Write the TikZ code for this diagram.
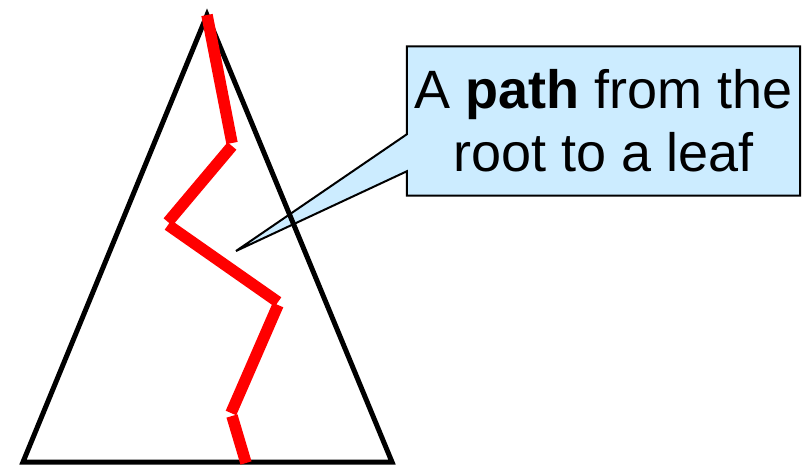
\documentclass[tikz,border=0pt]{standalone}
\usepackage{fontspec}
\setmainfont{Liberation Sans}
\usepackage{xcolor}
\usetikzlibrary{positioning,backgrounds}
\definecolor{noteblue}{RGB}{204,236,255}
\definecolor{pathred}{RGB}{255,0,0}

\begin{document}
\begin{tikzpicture}[
    x=1pt, y=-1pt,
    tri/.style={draw=black, line width=5pt, line join=miter},
    pathseg/.style={draw=pathred, line width=11.5pt},
    notebox/.style={rectangle, minimum width=393pt, minimum height=149pt, inner sep=0pt, align=center, font=\fontsize{54}{63}\selectfont},
    noteline/.style={draw=black, fill=noteblue, line width=2pt}
]
\useasboundingbox (0,0) rectangle (809,466);

% Tree
\coordinate (root) at (207,15);
\coordinate (leftleaf) at (23,462);
\coordinate (rightleaf) at (392,462);
\draw[tri] (root) -- (rightleaf) -- (leftleaf) -- cycle;

% Path from root to leaf
\foreach \xa/\ya/\xb/\yb in {207/15/232/143, 232/146/168/222, 168/225/278/302, 278/305/231/413, 232/416/246/463} {
    \draw[pathseg] (\xa,\ya) -- (\xb,\yb);
}

% Callout
\node[notebox] (note) at (603.5,121) {A \textbf{path} from the\\root to a leaf};
\coordinate (tip) at (236,251);
\begin{scope}[on background layer]
\draw[noteline] (note.north west) -- ([yshift=-88pt]note.north west) -- (tip) -- ([yshift=-125pt]note.north west) -- (note.south west) -- (note.south east) -- (note.north east) -- cycle;
\end{scope}

\end{tikzpicture}
\end{document}
